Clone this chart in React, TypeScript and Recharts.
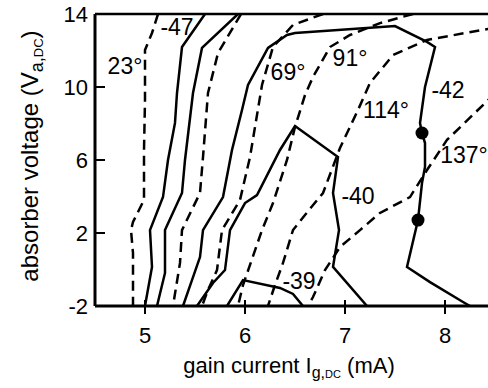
import React from "react";
import {
  ComposedChart,
  Line,
  Scatter,
  XAxis,
  YAxis,
  ReferenceLine,
  ReferenceDot,
} from "recharts";

type Pt = [number, number];

const xTicks = [5, 6, 7, 8];
const yTicks = [-2, 2, 6, 10, 14];

// phase contours (dashed) — [gain current mA, absorber voltage V]
const phase23: Pt[] = [[5.13, 14], [5.07, 12.96], [5.0, 12.03], [5.0, 9.29], [4.99, 6.55], [4.99, 3.81], [4.88, 2.6], [4.86, 2.16], [4.88, 0.9], [4.88, -2]];
const phase46: Pt[] = [[5.96, 14], [5.73, 11.86], [5.63, 9.67], [5.58, 6.16], [5.55, 4.19], [5.37, 2.16], [5.35, 0.36], [5.28, -2]];
const phase69: Pt[] = [[6.78, 14], [6.48, 13.4], [6.28, 12.19], [6.17, 10.11], [6.05, 6.16], [5.95, 3.81], [5.77, 2.16], [5.72, -0.03], [5.63, -1.12], [5.57, -2]];
const phase91: Pt[] = [[7.68, 14], [7.35, 13.5], [7.05, 12.85], [6.85, 12.19], [6.68, 10.55], [6.6, 9.56], [6.5, 7.81], [6.42, 6.0], [6.28, 3.64], [6.17, 2.16], [6.05, 0.25], [5.98, -0.85], [5.93, -2]];
const phase114: Pt[] = [[8.5, 13.25], [7.82, 12.58], [7.48, 11.75], [7.25, 10.22], [7.13, 8.74], [6.95, 6.66], [6.78, 4.19], [6.6, 2.99], [6.48, 2.16], [6.38, 0.36], [6.3, -0.85], [6.23, -2]];
const phase137: Pt[] = [[8.5, 9.65], [8.02, 7.1], [7.82, 5.45], [7.65, 3.97], [7.35, 3.1], [7.15, 2.16], [6.95, 1.23], [6.8, -0.03], [6.68, -1.51], [6.63, -2]];

// gain contours (solid), dB
const gain47: Pt[] = [[5.6, 14], [5.37, 12.19], [5.32, 9.67], [5.3, 8.03], [5.23, 6.0], [5.18, 3.97], [5.05, 2.16], [5.07, 0.14], [5.0, -2]];
const gain44: Pt[] = [[5.93, 14], [5.57, 12.14], [5.48, 9.67], [5.4, 6.0], [5.37, 4.19], [5.2, 2.16], [5.2, -0.19], [5.12, -2]];
const gain42: Pt[] = [[5.38, -2], [5.55, 0.68], [5.58, 2.16], [5.78, 3.97], [5.87, 6.55], [5.97, 8.74], [6.03, 10.11], [6.23, 12.14], [6.42, 12.85], [6.5, 12.96], [7.5, 13.34], [7.82, 12.47], [7.9, 12.19], [7.8, 10.0], [7.75, 8.03], [7.77, 7.48], [7.8, 6.93], [7.8, 5.62], [7.77, 4.74], [7.73, 2.71], [7.62, 0.14], [7.85, -0.69], [8.18, -1.78], [8.25, -2]];
const gain40: Pt[] = [[5.52, -2], [5.68, -0.74], [5.8, -0.03], [5.85, 2.16], [6.0, 3.64], [6.12, 4.08], [6.35, 6.55], [6.5, 7.86], [6.93, 6.16], [6.88, 4.19], [6.94, 2.16], [6.88, 0.14], [7.22, -2]];
const gain39: Pt[] = [[5.82, -2], [5.98, -0.58], [6.35, -1.01], [6.48, -1.34], [6.58, -2]];

const markedPoints: Pt[] = [[7.77, 7.48], [7.73, 2.71]];

const contourLabels: { text: string; at: Pt }[] = [
  { text: "23°", at: [4.8, 11.15] },
  { text: "-47", at: [5.32, 13.29] },
  { text: "69°", at: [6.43, 10.82] },
  { text: "91°", at: [7.05, 11.59] },
  { text: "-42", at: [8.03, 9.84] },
  { text: "114°", at: [7.41, 8.74] },
  { text: "-40", at: [7.13, 4.03] },
  { text: "137°", at: [8.19, 6.27] },
  { text: "-39", at: [6.54, -0.63] },
];

const dashed = [phase23, phase46, phase69, phase91, phase114, phase137];
const solid = [gain47, gain44, gain42, gain40, gain39];

const toRows = (pts: Pt[]) => pts.map(([x, y]) => ({ x, y }));

const FONT = "'Liberation Sans', Arial, Helvetica, sans-serif";

const XTick = (props: any) => {
  const { x, y, payload } = props;
  return (
    <g>
      <line x1={x} x2={x} y1={y - 6} y2={y + 8} stroke="#000" strokeWidth={2} />
      <text x={x} y={y + 37} textAnchor="middle" fontSize={22} fontFamily={FONT} fill="#000">
        {payload.value}
      </text>
    </g>
  );
};

const YTick = (props: any) => {
  const { x, y, payload } = props;
  const inner = payload.value !== -2 && payload.value !== 14;
  return (
    <g>
      {inner && <line x1={x} x2={x + 10} y1={y} y2={y} stroke="#000" strokeWidth={2} />}
      <text x={x - 7} y={y + 8} textAnchor="end" fontSize={22} fontFamily={FONT} fill="#000">
        {payload.value}
      </text>
    </g>
  );
};

const YTitle = () => (
  <text
    x={38}
    y={156}
    transform="rotate(-90, 38, 156)"
    textAnchor="middle"
    fontSize={24}
    fontFamily={FONT}
    fill="#000"
  >
    absorber voltage (V
    <tspan dy={5} fontSize={18}>a,</tspan>
    <tspan fontSize={13}>DC</tspan>
    <tspan dy={-5}>)</tspan>
  </text>
);

const XTitle = () => (
  <text x={289} y={373} textAnchor="middle" fontSize={22} fontFamily={FONT} fill="#000">
    gain current I
    <tspan dy={5} fontSize={16}>g,</tspan>
    <tspan fontSize={11}>DC</tspan>
    <tspan dy={-5}> (mA)</tspan>
  </text>
);

const BigDot = (props: any) => <circle cx={props.cx} cy={props.cy} r={6.5} fill="#000" />;

export default function App() {
  return (
    <div
      style={{
        position: "absolute",
        left: 0,
        top: 0,
        width: 488,
        height: 388,
        overflow: "hidden",
        background: "#fff",
      }}
    >
      <ComposedChart width={500} height={388} margin={{ top: 14, right: 5, bottom: 0, left: 0 }}>
        <XAxis
          dataKey="x"
          type="number"
          domain={[4.5, 8.5]}
          ticks={xTicks}
          height={82}
          tickSize={0}
          tickMargin={0}
          tickLine={false}
          axisLine={{ stroke: "#000", strokeWidth: 3 }}
          tick={<XTick />}
          label={{ content: () => <XTitle /> }}
          allowDataOverflow
        />
        <YAxis
          dataKey="y"
          type="number"
          domain={[-2, 14]}
          ticks={yTicks}
          width={95}
          tickSize={0}
          tickMargin={0}
          tickLine={false}
          axisLine={{ stroke: "#000", strokeWidth: 3 }}
          tick={<YTick />}
          label={{ content: () => <YTitle /> }}
          allowDataOverflow
        />
        <ReferenceLine y={14} stroke="#000" strokeWidth={2.5} />
        {dashed.map((pts, i) => (
          <Line
            key={`d${i}`}
            data={toRows(pts)}
            dataKey="y"
            stroke="#000"
            strokeWidth={2.5}
            strokeDasharray="10 6"
            dot={false}
            activeDot={false}
            isAnimationActive={false}
          />
        ))}
        {solid.map((pts, i) => (
          <Line
            key={`s${i}`}
            data={toRows(pts)}
            dataKey="y"
            stroke="#000"
            strokeWidth={2.5}
            dot={false}
            activeDot={false}
            isAnimationActive={false}
          />
        ))}
        <Scatter data={toRows(markedPoints)} dataKey="y" shape={<BigDot />} isAnimationActive={false} />
        {contourLabels.map((l) => (
          <ReferenceDot
            key={l.text}
            x={l.at[0]}
            y={l.at[1]}
            r={0}
            fill="none"
            stroke="none"
            label={{ value: l.text, position: "center", fontSize: 23, fontFamily: FONT, fill: "#000" }}
          />
        ))}
      </ComposedChart>
    </div>
  );
}
